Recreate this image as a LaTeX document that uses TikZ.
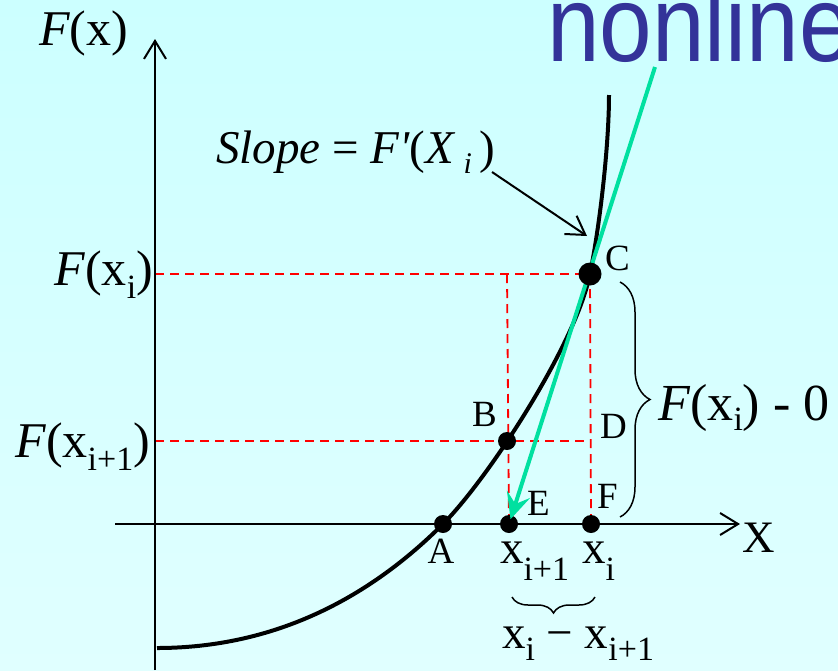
\documentclass[tikz,border=0pt]{standalone}
\usepackage{fontspec}
\setmainfont{Liberation Serif}
\newfontfamily\sansf{Liberation Sans}
\usetikzlibrary{arrows.meta,decorations.pathreplacing}
\definecolor{bgtop}{RGB}{204,255,255}
\definecolor{bgbot}{RGB}{224,255,255}
\definecolor{tang}{RGB}{0,224,160}
\definecolor{titleblue}{RGB}{51,51,153}
\newcommand{\sbs}[2][14pt]{\raisebox{-#1}{\fontsize{34}{34}\selectfont #2}}
\newcommand{\fs}[1]{\fontsize{#1}{#1}\selectfont}
\begin{document}
\begin{tikzpicture}[x=1pt,y=-1pt,
 txt/.style={inner sep=0pt, outer sep=0pt},
 axis/.style={line width=2pt, -{Straight Barb[length=18pt,width=22pt]}},
 guide/.style={red, line width=1.8pt, dash pattern=on 9pt off 6pt},
 dot/.style={circle, fill=black, inner sep=0pt, minimum size=18pt},
 bigdot/.style={circle, fill=black, inner sep=0pt, minimum size=23pt},
 curve/.style={line width=4pt},
 brc/.style={decorate, decoration={brace, amplitude=#1}, line width=1.5pt},
 lettr/.style={txt, anchor=base west, font=\fs{37}},
]
\fill[top color=bgtop,bottom color=bgbot] (0,0) rectangle (838,670);
\useasboundingbox (0,0) rectangle (838,670);

% points
\coordinate (Ap) at (443,524);
\coordinate (Ep) at (509,524);
\coordinate (Fp) at (591,524);
\coordinate (Bp) at (507,441);
\coordinate (Cp) at (590,274);

% guide lines
\coordinate (yC) at (155,274);
\coordinate (yB) at (155,441);
\coordinate (cB) at (507,274);
\coordinate (dD) at (591,441);
\draw[guide] (yC) -- (Cp);
\draw[guide] (cB) -- (Ep);
\draw[guide] (yB) -- (dD);
\draw[guide] (Cp) -- (Fp);

% axes
\coordinate (ybot) at (155,670);
\coordinate (ytop) at (155,39);
\coordinate (xl) at (115,524);
\coordinate (xr) at (740,524);
\draw[axis] (ybot) -- (ytop);
\draw[axis] (xl) -- (xr);

% curve
\coordinate (c0) at (157,648);
\coordinate (c9) at (609,95);
\draw[curve] (c0) .. controls (290,648) and (383,584) .. (Ap)
                 .. controls (488,479) and (576,344) .. (Cp)
                 .. controls (600,224) and (609,145) .. (c9);

\node[dot] (A) at (Ap) {};
\node[dot] (E) at (Ep) {};
\node[dot] (F) at (Fp) {};
\node[dot] (B) at (Bp) {};

% tangent
\coordinate (gs) at (655,67);
\draw[tang, line width=4pt, shorten >=5pt, -{Stealth[length=26pt,width=24pt,inset=10pt]}] (gs) -- (E.center);
\node[bigdot] (C) at (Cp) {};

% title
\node[txt, anchor=base west, text=titleblue] (title) at (547,61) {\scalebox{0.875}[1]{\sansf\fs{108}nonline}};

% labels
\node[txt, anchor=base west] (Fx) at (39,45) {\fs{50}\textit{F}(x)};
\node[txt, anchor=base west] (Xl) at (742,552) {\fs{45}X};
\node[txt, anchor=base east] (Fxi) at (153,285) {\fs{50}\textit{F}(x\sbs[13pt]{i})};
\node[txt, anchor=base east] (Fxi1) at (150,457) {\fs{50}\textit{F}(x\sbs[13pt]{i+1})};
\node[txt, anchor=base west] (slope) at (216,163) {\fs{47}\textit{Slope} = \textit{F\textquotesingle}(\textit{X}\,\raisebox{-10pt}{\fs{30}\textit{i}}\,)};
\node[txt, anchor=base west] (diff) at (658,420) {\fs{52}\textit{F}(x\sbs[10pt]{i}) - 0};
\node[txt, anchor=base west] (xi1) at (500,563) {\fs{47}x\sbs[17pt]{i+1}};
\node[txt, anchor=base west] (xi) at (582,563) {\fs{47}x\sbs[17pt]{i}};
\node[txt, anchor=base west] (dx) at (502,648) {\fs{47}x\sbs[12pt]{i} − x\sbs[12pt]{i+1}};

\node[lettr] (lC) at (605,270) {C};
\node[lettr] (lB) at (472,426) {B};
\node[lettr] (lD) at (600,438) {D};
\node[lettr] (lE) at (527,515) {E};
\node[lettr] (lF) at (597,508) {F};
\node[txt, anchor=base, font=\fs{37}] (lA) at (441,563) {A};

% slope pointer
\coordinate (ss) at (492,172);
\coordinate (se) at (587,236);
\draw[line width=2pt, -{Straight Barb[length=18pt,width=22pt]}] (ss) -- (se);

% braces
\coordinate (bt) at (620,282);
\coordinate (bb) at (620,517);
\draw[brc=30pt] (bt) -- (bb);
\coordinate (ur) at (595,597);
\coordinate (ul) at (512,597);
\draw[brc=16pt] (ur) -- (ul);
\end{tikzpicture}
\end{document}
